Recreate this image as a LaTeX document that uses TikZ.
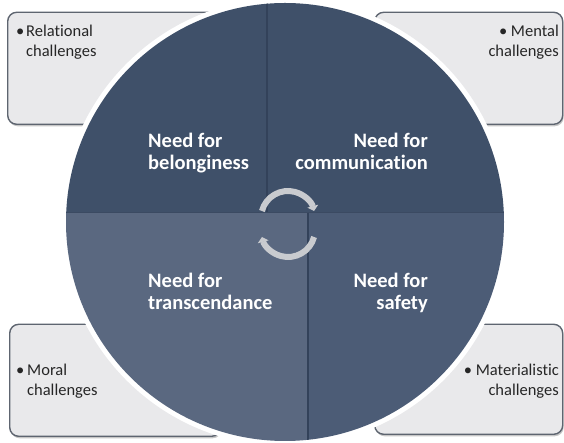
\documentclass[tikz,border=0pt]{standalone}
\usepackage{fontspec}
\setmainfont{Carlito}[Ligatures=NoCommon]
\usetikzlibrary{arrows.meta}
\definecolor{quadTop}{HTML}{3F5069}
\definecolor{quadBL}{HTML}{5A6880}
\definecolor{quadBR}{HTML}{4C5C76}
\definecolor{divline}{HTML}{33425A}
\definecolor{boxfill}{HTML}{E9E9EB}
\definecolor{boxline}{HTML}{5E6570}
\definecolor{arrowgray}{HTML}{C9CBCF}
\begin{document}
\begin{tikzpicture}[x=1pt,y=1pt,
  chbox/.style={fill=boxfill, draw=boxline, line width=1.4pt, rounded corners=9pt, anchor=south west, inner sep=0pt},
  boxshadow/.style={fill=black!22, rounded corners=9pt, anchor=south west, inner sep=0pt},
  needtxt/.style={text=white, font=\fontsize{20.5}{22.5}\selectfont\bfseries, inner sep=0pt},
  chtxt/.style={text=black!85, font=\fontsize{16.5}{20}\selectfont, inner sep=0pt},
  cyc/.style={draw=arrowgray, line width=6pt, -{Triangle[length=5pt,width=11pt]}}]
\useasboundingbox (0,0) rectangle (564,443);
% shadows
\node[boxshadow, minimum width=213pt, minimum height=112pt] (s1) at (8.5,316.5) {};
\node[boxshadow, minimum width=188pt, minimum height=112pt] (s2) at (375.5,316.5) {};
\node[boxshadow, minimum width=211pt, minimum height=112pt] (s3) at (10.5,4.5) {};
\node[boxshadow, minimum width=188pt, minimum height=110pt] (s4) at (375.5,6.5) {};
% boxes
\node[chbox, minimum width=213pt, minimum height=112pt] (b1) at (7,318) {};
\node[chbox, minimum width=188pt, minimum height=112pt] (b2) at (374,318) {};
\node[chbox, minimum width=211pt, minimum height=112pt] (b3) at (9,6) {};
\node[chbox, minimum width=188pt, minimum height=110pt] (b4) at (374,8) {};
% circle
\coordinate (cc) at (285,221);
\fill[white] (cc) circle (224);
\begin{scope}
  \clip (cc) circle (219);
  \fill[quadTop] (0,231) rectangle (564,443);
  \fill[quadBL] (0,0) rectangle (308,231);
  \fill[quadBR] (308,0) rectangle (564,231);
  \draw[divline, line width=1.2pt] (267,231) -- (267,443);
  \draw[divline, line width=1.2pt] (308,0) -- (308,231);
  \draw[divline!80!quadBL, line width=0.8pt] (0,231) -- (564,231);
\end{scope}
% need texts (base anchor = last line)
\node[needtxt, align=left, anchor=base west] (n1) at (148,273) {Need for\\belonginess};
\node[needtxt, align=right, anchor=base east] (n2) at (428,273) {Need for\\communication};
\node[needtxt, align=left, anchor=base west] (n3) at (148,133) {Need for\\transcendance};
\node[needtxt, align=right, anchor=base east] (n4) at (428,133) {Need for\\safety};
% challenge texts
\node[chtxt, anchor=base west] (d1) at (16,406) {•};
\node[chtxt, align=left, anchor=base west] (t1) at (26,386) {Relational\\challenges};
\node[chtxt, align=right, anchor=base east] (t2) at (559,386) {• Mental\\challenges};
\node[chtxt, anchor=base west] (d3) at (16,67) {•};
\node[chtxt, align=left, anchor=base west] (t3) at (27,47) {Moral\\challenges};
\node[chtxt, align=right, anchor=base east] (t4) at (559,47) {• Materialistic\\challenges};
% cycle arrows
\coordinate (a1) at (288,225);
\coordinate (a2) at (288,213);
\draw[cyc] (a1) ++(165:27) arc[start angle=165, end angle=15, radius=27];
\draw[cyc] (a2) ++(-15:27) arc[start angle=-15, end angle=-165, radius=27];
\end{tikzpicture}
\end{document}
